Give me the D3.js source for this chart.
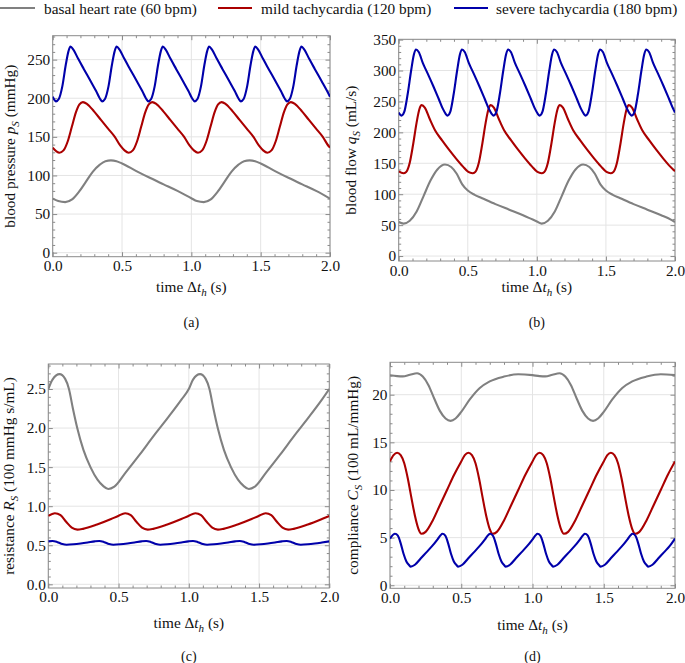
<!DOCTYPE html>
<html>
<head>
<meta charset="utf-8">
<script src="https://cdn.jsdelivr.net/npm/d3@7"></script>
<style>
  body { margin: 0; background: #fff; }
</style>
</head>
<body>
<div id="chart"></div>
<script>
// ---- data (time in s) ----
const seriesNames = ['basal heart rate (60 bpm)', 'mild tachycardia (120 bpm)', 'severe tachycardia (180 bpm)'];
const seriesColors = ['#808080', '#aa0000', '#0000aa'];
const timeTicks = [0, 0.5, 1, 1.5, 2];

// (a) blood pressure p_S (mmHg)
const pressureBasal = [[0,70],[0.04,66.8],[0.09,65.5],[0.14,69],[0.19,79],[0.24,92],[0.29,105],[0.34,114],[0.38,118.5],[0.42,119.5],[0.46,118.5],[0.5,115.5],[0.6,106],[0.7,97],[0.8,88.5],[0.9,80],[1.0,70.5],[1.04,66.8],[1.09,65.5],[1.14,69],[1.19,79],[1.24,92],[1.29,105],[1.34,114],[1.38,118.5],[1.42,119.5],[1.46,118.5],[1.5,115.5],[1.6,106],[1.7,97],[1.8,88.5],[1.9,80],[2.0,70]];
const pressureMild = [[0,136],[0.048,129.5],[0.078,132.5],[0.108,144],[0.138,163],[0.168,182],[0.193,192],[0.218,195],[0.248,192.5],[0.298,183],[0.348,172],[0.398,161],[0.448,150],[0.488,138.5],[0.518,132.5],[0.548,129.5],[0.578,132.5],[0.608,144],[0.638,163],[0.668,182],[0.693,192],[0.718,195],[0.748,192.5],[0.798,183],[0.848,172],[0.898,161],[0.948,150],[0.988,138.5],[1.018,132.5],[1.048,129.5],[1.078,132.5],[1.108,144],[1.138,163],[1.168,182],[1.193,192],[1.218,195],[1.248,192.5],[1.298,183],[1.348,172],[1.398,161],[1.448,150],[1.488,138.5],[1.518,132.5],[1.548,129.5],[1.578,132.5],[1.608,144],[1.638,163],[1.668,182],[1.693,192],[1.718,195],[1.748,192.5],[1.798,183],[1.848,172],[1.898,161],[1.948,150],[1.988,138.5],[2.0,136]];
const pressureSevere = [[0,202],[0.024,196],[0.044,199],[0.069,215],[0.094,243],[0.114,261],[0.128,267],[0.149,263],[0.184,251],[0.224,238],[0.274,222],[0.314,209],[0.339,200],[0.357,196],[0.377,199],[0.402,215],[0.427,243],[0.447,261],[0.461,267],[0.482,263],[0.517,251],[0.557,238],[0.607,222],[0.647,209],[0.672,200],[0.69,196],[0.71,199],[0.735,215],[0.76,243],[0.78,261],[0.794,267],[0.815,263],[0.85,251],[0.89,238],[0.94,222],[0.98,209],[1.005,200],[1.024,196],[1.044,199],[1.069,215],[1.094,243],[1.114,261],[1.128,267],[1.149,263],[1.184,251],[1.224,238],[1.274,222],[1.314,209],[1.339,200],[1.357,196],[1.377,199],[1.402,215],[1.427,243],[1.447,261],[1.461,267],[1.482,263],[1.517,251],[1.557,238],[1.607,222],[1.647,209],[1.672,200],[1.69,196],[1.71,199],[1.735,215],[1.76,243],[1.78,261],[1.794,267],[1.815,263],[1.85,251],[1.89,238],[1.94,222],[1.98,209],[2.0,202]];

// (b) blood flow q_S (mL/s)
const flowBasal = [[0,55],[0.035,52.5],[0.08,57],[0.13,72],[0.18,97],[0.23,122],[0.28,140],[0.335,148],[0.38,144],[0.42,133],[0.46,116],[0.5,106],[0.55,99],[0.6,94],[0.7,84],[0.8,75],[0.9,66],[0.97,59],[1.0,56],[1.035,52.5],[1.08,57],[1.13,72],[1.18,97],[1.23,122],[1.28,140],[1.335,148],[1.38,144],[1.42,133],[1.46,116],[1.5,106],[1.55,99],[1.6,94],[1.7,84],[1.8,75],[1.9,66],[1.97,59],[2.0,55]];
const flowMild = [[0,137],[0.034,134],[0.054,136],[0.079,150],[0.104,180],[0.129,215],[0.149,237],[0.166,244],[0.189,240],[0.224,222],[0.264,203],[0.314,187],[0.364,172],[0.414,158],[0.464,145],[0.504,136],[0.534,134],[0.554,136],[0.579,150],[0.604,180],[0.629,215],[0.649,237],[0.666,244],[0.689,240],[0.724,222],[0.764,203],[0.814,187],[0.864,172],[0.914,158],[0.964,145],[1.004,136],[1.034,134],[1.054,136],[1.079,150],[1.104,180],[1.129,215],[1.149,237],[1.166,244],[1.189,240],[1.224,222],[1.264,203],[1.314,187],[1.364,172],[1.414,158],[1.464,145],[1.504,136],[1.534,134],[1.554,136],[1.579,150],[1.604,180],[1.629,215],[1.649,237],[1.666,244],[1.689,240],[1.724,222],[1.764,203],[1.814,187],[1.864,172],[1.914,158],[1.964,145],[2.0,137]];
const flowSevere = [[0,232],[0.02,227],[0.04,233],[0.065,262],[0.09,300],[0.11,326],[0.125,334],[0.145,330],[0.175,312],[0.21,295],[0.25,275],[0.29,254],[0.32,238],[0.34,230],[0.353,227],[0.373,233],[0.398,262],[0.423,300],[0.443,326],[0.458,334],[0.478,330],[0.508,312],[0.543,295],[0.583,275],[0.623,254],[0.653,238],[0.673,230],[0.687,227],[0.707,233],[0.732,262],[0.757,300],[0.777,326],[0.792,334],[0.812,330],[0.842,312],[0.877,295],[0.917,275],[0.957,254],[0.987,238],[1.007,230],[1.02,227],[1.04,233],[1.065,262],[1.09,300],[1.11,326],[1.125,334],[1.145,330],[1.175,312],[1.21,295],[1.25,275],[1.29,254],[1.32,238],[1.34,230],[1.353,227],[1.373,233],[1.398,262],[1.423,300],[1.443,326],[1.458,334],[1.478,330],[1.508,312],[1.543,295],[1.583,275],[1.623,254],[1.653,238],[1.673,230],[1.687,227],[1.707,233],[1.732,262],[1.757,300],[1.777,326],[1.792,334],[1.812,330],[1.842,312],[1.877,295],[1.917,275],[1.957,254],[1.987,238],[2.0,232]];

// (c) resistance R_S (100 mmHg s/mL)
const resistBasal = [[0,2.5],[0.03,2.62],[0.08,2.69],[0.12,2.63],[0.147,2.5],[0.175,2.25],[0.206,2.0],[0.25,1.72],[0.3,1.5],[0.35,1.34],[0.39,1.26],[0.427,1.22],[0.47,1.25],[0.55,1.43],[0.65,1.66],[0.75,1.9],[0.85,2.13],[0.95,2.37],[1.0,2.5],[1.03,2.62],[1.08,2.69],[1.12,2.63],[1.147,2.5],[1.175,2.25],[1.206,2.0],[1.25,1.72],[1.3,1.5],[1.35,1.34],[1.39,1.26],[1.427,1.22],[1.47,1.25],[1.55,1.43],[1.65,1.66],[1.75,1.9],[1.85,2.13],[1.95,2.37],[2.0,2.5]];
const resistMild = [[0,0.875],[0.047,0.91],[0.087,0.885],[0.127,0.8],[0.167,0.725],[0.207,0.7],[0.247,0.71],[0.347,0.765],[0.447,0.835],[0.497,0.875],[0.547,0.91],[0.587,0.885],[0.627,0.8],[0.667,0.725],[0.707,0.7],[0.747,0.71],[0.847,0.765],[0.947,0.835],[0.997,0.875],[1.047,0.91],[1.087,0.885],[1.127,0.8],[1.167,0.725],[1.207,0.7],[1.247,0.71],[1.347,0.765],[1.447,0.835],[1.497,0.875],[1.547,0.91],[1.587,0.885],[1.627,0.8],[1.667,0.725],[1.707,0.7],[1.747,0.71],[1.847,0.765],[1.947,0.835],[2.0,0.875]];
const resistSevere = [[0,0.55],[0.03,0.555],[0.065,0.54],[0.1,0.515],[0.13,0.507],[0.18,0.512],[0.23,0.522],[0.28,0.535],[0.33,0.55],[0.363,0.555],[0.398,0.54],[0.433,0.515],[0.463,0.507],[0.513,0.512],[0.563,0.522],[0.613,0.535],[0.663,0.55],[0.697,0.555],[0.732,0.54],[0.767,0.515],[0.797,0.507],[0.847,0.512],[0.897,0.522],[0.947,0.535],[0.997,0.55],[1.03,0.555],[1.065,0.54],[1.1,0.515],[1.13,0.507],[1.18,0.512],[1.23,0.522],[1.28,0.535],[1.33,0.55],[1.363,0.555],[1.398,0.54],[1.433,0.515],[1.463,0.507],[1.513,0.512],[1.563,0.522],[1.613,0.535],[1.663,0.55],[1.697,0.555],[1.732,0.54],[1.767,0.515],[1.797,0.507],[1.847,0.512],[1.897,0.522],[1.947,0.535],[2.0,0.55]];

// (d) compliance C_S (100 mL/mmHg)
const complBasal = [[0,22.05],[0.05,21.95],[0.09,21.92],[0.14,22.1],[0.19,22.25],[0.23,21.9],[0.27,21.0],[0.31,19.6],[0.35,18.3],[0.39,17.5],[0.425,17.25],[0.46,17.5],[0.5,18.2],[0.56,19.5],[0.63,20.7],[0.7,21.4],[0.8,21.9],[0.9,22.15],[1.0,22.05],[1.05,21.95],[1.09,21.92],[1.14,22.1],[1.19,22.25],[1.23,21.9],[1.27,21.0],[1.31,19.6],[1.35,18.3],[1.39,17.5],[1.425,17.25],[1.46,17.5],[1.5,18.2],[1.56,19.5],[1.63,20.7],[1.7,21.4],[1.8,21.9],[1.9,22.15],[2.0,22.05]];
const complMild = [[0,13.0],[0.025,13.65],[0.05,13.9],[0.075,13.65],[0.1,12.8],[0.125,11.2],[0.15,9.2],[0.175,7.3],[0.2,5.9],[0.22,5.4],[0.25,5.6],[0.3,6.8],[0.35,8.4],[0.4,10.0],[0.45,11.6],[0.5,13.0],[0.525,13.65],[0.55,13.9],[0.575,13.65],[0.6,12.8],[0.625,11.2],[0.65,9.2],[0.675,7.3],[0.7,5.9],[0.72,5.4],[0.75,5.6],[0.8,6.8],[0.85,8.4],[0.9,10.0],[0.95,11.6],[1.0,13.0],[1.025,13.65],[1.05,13.9],[1.075,13.65],[1.1,12.8],[1.125,11.2],[1.15,9.2],[1.175,7.3],[1.2,5.9],[1.22,5.4],[1.25,5.6],[1.3,6.8],[1.35,8.4],[1.4,10.0],[1.45,11.6],[1.5,13.0],[1.525,13.65],[1.55,13.9],[1.575,13.65],[1.6,12.8],[1.625,11.2],[1.65,9.2],[1.675,7.3],[1.7,5.9],[1.72,5.4],[1.75,5.6],[1.8,6.8],[1.85,8.4],[1.9,10.0],[1.95,11.6],[2.0,13.0]];
const complSevere = [[0,4.9],[0.035,5.4],[0.055,5.2],[0.075,4.4],[0.095,3.3],[0.115,2.5],[0.135,2.1],[0.145,1.95],[0.175,2.15],[0.215,2.8],[0.255,3.45],[0.295,4.1],[0.335,4.85],[0.355,5.25],[0.368,5.4],[0.388,5.2],[0.408,4.4],[0.428,3.3],[0.448,2.5],[0.468,2.1],[0.478,1.95],[0.508,2.15],[0.548,2.8],[0.588,3.45],[0.628,4.1],[0.668,4.85],[0.688,5.25],[0.702,5.4],[0.722,5.2],[0.742,4.4],[0.762,3.3],[0.782,2.5],[0.802,2.1],[0.812,1.95],[0.842,2.15],[0.882,2.8],[0.922,3.45],[0.962,4.1],[1.002,4.85],[1.022,5.25],[1.035,5.4],[1.055,5.2],[1.075,4.4],[1.095,3.3],[1.115,2.5],[1.135,2.1],[1.145,1.95],[1.175,2.15],[1.215,2.8],[1.255,3.45],[1.295,4.1],[1.335,4.85],[1.355,5.25],[1.368,5.4],[1.388,5.2],[1.408,4.4],[1.428,3.3],[1.448,2.5],[1.468,2.1],[1.478,1.95],[1.508,2.15],[1.548,2.8],[1.588,3.45],[1.628,4.1],[1.668,4.85],[1.688,5.25],[1.702,5.4],[1.722,5.2],[1.742,4.4],[1.762,3.3],[1.782,2.5],[1.802,2.1],[1.812,1.95],[1.842,2.15],[1.882,2.8],[1.922,3.45],[1.962,4.1],[2.0,4.9]];

// y ticks per panel
const pressureTicks = [0, 50, 100, 150, 200, 250];
const flowTicks = [0, 50, 100, 150, 200, 250, 300, 350];
const resistTicks = [0, 0.5, 1, 1.5, 2, 2.5];
const complTicks = [0, 5, 10, 15, 20];

// ---- layout ----
const W = 685, H = 663;
const FONT = 15.3;
const SERIF = 'Liberation Serif';
const frameColor = '#8a8a8a';
const gridColor = '#e4e4e4';

const svg = d3.select('#chart').append('svg')
  .attr('width', W)
  .attr('height', H)
  .attr('font-family', SERIF);

// label with italic / subscript pieces
function richText(sel, parts) {
  let shifted = false;
  parts.forEach(([t, s]) => {
    const ts = sel.append('tspan').text(t);
    if (s === 'i' || s === 'isub') ts.attr('font-style', 'italic');
    if (s === 'isub') {
      ts.attr('dy', 3.5).attr('font-size', 11);
      shifted = true;
    } else if (shifted) {
      ts.attr('dy', -3.5);
      shifted = false;
    }
  });
}

const timeLabel = [['time Δ', ''], ['t', 'i'], ['h', 'isub'], [' (s)', '']];

function drawPanel(p) {
  const x = d3.scaleLinear().domain([0, 2]).range([p.left, p.right]);
  const y = d3.scaleLinear().domain(p.yDomain).range([p.bottom, p.top]);
  const g = svg.append('g').attr('class', 'panel');

  // grid lines at major ticks
  g.append('g').selectAll('line').data(timeTicks).join('line')
    .attr('x1', d => x(d)).attr('x2', d => x(d))
    .attr('y1', p.top).attr('y2', p.bottom)
    .attr('stroke', gridColor).attr('stroke-width', 1);
  g.append('g').selectAll('line').data(p.yTicks).join('line')
    .attr('x1', p.left).attr('x2', p.right)
    .attr('y1', d => y(d)).attr('y2', d => y(d))
    .attr('stroke', gridColor).attr('stroke-width', 1);

  // minor tick values
  const xMinor = d3.range(0, 2.0001, 0.1).filter(v => !timeTicks.some(t => Math.abs(t - v) < 1e-6));
  const yMinor = d3.range(p.yTicks[0], p.yDomain[1], p.yMinorStep)
    .filter(v => !p.yTicks.some(t => Math.abs(t - v) < 1e-6));

  // axes, ticks pointing inward on all four sides
  g.append('g').attr('transform', `translate(0,${p.bottom})`)
    .call(d3.axisBottom(x).tickValues(timeTicks).tickFormat(d3.format('.1f'))
      .tickSizeInner(-4.5).tickSizeOuter(0).tickPadding(p.xPad));
  g.append('g').attr('transform', `translate(0,${p.bottom})`)
    .call(d3.axisBottom(x).tickValues(xMinor).tickFormat('').tickSizeInner(-2.5).tickSizeOuter(0));
  g.append('g').attr('transform', `translate(0,${p.top})`)
    .call(d3.axisTop(x).tickValues(timeTicks).tickFormat('').tickSizeInner(-4.5).tickSizeOuter(0));
  g.append('g').attr('transform', `translate(0,${p.top})`)
    .call(d3.axisTop(x).tickValues(xMinor).tickFormat('').tickSizeInner(-2.5).tickSizeOuter(0));

  g.append('g').attr('transform', `translate(${p.left},0)`)
    .call(d3.axisLeft(y).tickValues(p.yTicks).tickFormat(p.yFormat)
      .tickSizeInner(-4.5).tickSizeOuter(0).tickPadding(2.5));
  g.append('g').attr('transform', `translate(${p.left},0)`)
    .call(d3.axisLeft(y).tickValues(yMinor).tickFormat('').tickSizeInner(-2.5).tickSizeOuter(0));
  g.append('g').attr('transform', `translate(${p.right},0)`)
    .call(d3.axisRight(y).tickValues(p.yTicks).tickFormat('').tickSizeInner(-4.5).tickSizeOuter(0));
  g.append('g').attr('transform', `translate(${p.right},0)`)
    .call(d3.axisRight(y).tickValues(yMinor).tickFormat('').tickSizeInner(-2.5).tickSizeOuter(0));

  g.selectAll('.domain').remove();
  g.selectAll('g').attr('font-family', SERIF).attr('font-size', FONT);
  g.selectAll('.tick line').attr('stroke', frameColor);
  g.selectAll('.tick text').attr('fill', '#111');

  // frame
  g.append('rect')
    .attr('x', p.left).attr('y', p.top)
    .attr('width', p.right - p.left).attr('height', p.bottom - p.top)
    .attr('fill', 'none').attr('stroke', frameColor).attr('stroke-width', 1);

  // curves
  const line = d3.line()
    .x(d => x(d[0]))
    .y(d => y(d[1]))
    .curve(d3.curveMonotoneX);
  const clipId = 'clip-' + p.tag;
  g.append('clipPath').attr('id', clipId).append('rect')
    .attr('x', p.left).attr('y', p.top)
    .attr('width', p.right - p.left).attr('height', p.bottom - p.top);
  g.append('g').attr('clip-path', `url(#${clipId})`)
    .selectAll('path').data(p.series).join('path')
    .attr('d', d => line(d))
    .attr('fill', 'none')
    .attr('stroke', (d, i) => seriesColors[i])
    .attr('stroke-width', 2.1)
    .attr('stroke-linejoin', 'round');

  // axis titles
  const xt = g.append('text')
    .attr('x', (p.left + p.right) / 2)
    .attr('y', p.xTitleY)
    .attr('text-anchor', 'middle')
    .attr('font-family', SERIF)
    .attr('font-size', FONT)
    .attr('fill', '#111');
  richText(xt, timeLabel);

  const yt = g.append('text')
    .attr('transform', `translate(${p.yTitleX},${(p.top + p.bottom) / 2}) rotate(-90)`)
    .attr('text-anchor', 'middle')
    .attr('font-family', SERIF)
    .attr('font-size', FONT)
    .attr('fill', '#111');
  richText(yt, p.yLabel);

  // panel tag
  g.append('text')
    .attr('x', (p.left + p.right) / 2)
    .attr('y', p.tagY)
    .attr('text-anchor', 'middle')
    .attr('font-family', SERIF)
    .attr('font-size', 14)
    .attr('fill', '#111')
    .text(`(${p.tag})`);
}

drawPanel({
  tag: 'a', left: 52.7, right: 330, top: 35.7, bottom: 256.7, xPad: 3,
  yDomain: [-5.2, 281], yTicks: pressureTicks, yMinorStep: 10, yFormat: d3.format('d'),
  series: [pressureBasal, pressureMild, pressureSevere],
  yLabel: [['blood pressure ', ''], ['p', 'i'], ['S', 'isub'], [' (mmHg)', '']],
  xTitleY: 292, yTitleX: 15, tagY: 327
});
drawPanel({
  tag: 'b', left: 398.7, right: 675, top: 39.3, bottom: 261, xPad: 4.5,
  yDomain: [-8, 350.5], yTicks: flowTicks, yMinorStep: 10, yFormat: d3.format('d'),
  series: [flowBasal, flowMild, flowSevere],
  yLabel: [['blood flow ', ''], ['q', 'i'], ['S', 'isub'], [' (mL/s)', '']],
  xTitleY: 292, yTitleX: 356, tagY: 327
});
drawPanel({
  tag: 'c', left: 48.3, right: 329.3, top: 364, bottom: 588, xPad: 3.5,
  yDomain: [-0.047, 2.82], yTicks: resistTicks, yMinorStep: 0.1, yFormat: d3.format('.1f'),
  series: [resistBasal, resistMild, resistSevere],
  yLabel: [['resistance ', ''], ['R', 'i'], ['S', 'isub'], [' (100 mmHg s/mL)', '']],
  xTitleY: 628, yTitleX: 14, tagY: 661
});
drawPanel({
  tag: 'd', left: 390, right: 675, top: 362.3, bottom: 588.3, xPad: 3.5,
  yDomain: [-0.32, 23.4], yTicks: complTicks, yMinorStep: 1, yFormat: d3.format('d'),
  series: [complBasal, complMild, complSevere],
  yLabel: [['compliance ', ''], ['C', 'i'], ['S', 'isub'], [' (100 mL/mmHg)', '']],
  xTitleY: 630, yTitleX: 358, tagY: 661
});

// ---- legend ----
const legendX = [[0, 35, 44], [218, 252, 261], [454, 488, 496]];
const legend = svg.append('g').attr('class', 'legend');
seriesNames.forEach((name, i) => {
  const [x0, x1, tx] = legendX[i];
  legend.append('line')
    .attr('x1', x0).attr('x2', x1).attr('y1', 8).attr('y2', 8)
    .attr('stroke', seriesColors[i]).attr('stroke-width', 2.1);
  legend.append('text')
    .attr('x', tx).attr('y', 13.5)
    .attr('font-family', SERIF)
    .attr('font-size', FONT)
    .attr('fill', '#111')
    .text(name);
});
</script>
</body>
</html>
